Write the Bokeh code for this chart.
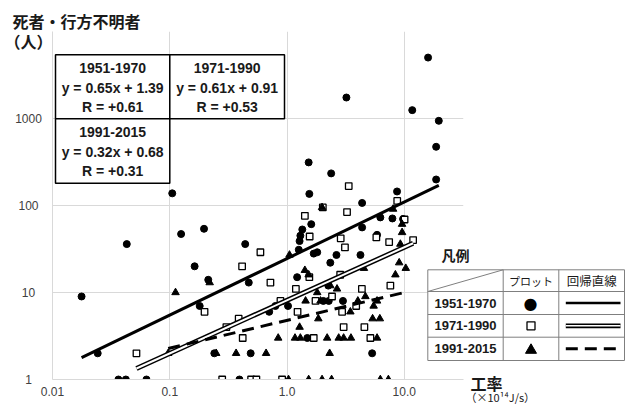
import numpy as np
from bokeh.plotting import figure
from bokeh.models import Range1d, FixedTicker, LinearScale
from bokeh.core.properties import value
from bokeh.embed import file_html
from bokeh.resources import INLINE

# ---------------- data ----------------
periods = ["1951-1970", "1971-1990", "1991-2015"]

x_1951 = [0.105, 0.125, 0.196, 0.043, 0.44, 0.163, 0.213, 0.472, 0.0177, 0.18,
          0.0243, 0.24, 0.49, 0.0365, 0.0422, 0.0633, 0.393, 0.796, 0.705, 1.02,
          1.53, 2.38, 1.55, 8.68, 4.37, 6.25, 7.92, 9.77, 4.37, 5.86,
          1.61, 1.35, 1.30, 1.28, 1.26, 1.69, 1.81, 2.64, 4.23, 2.34,
          1.22, 2.25, 3.0, 2.04, 2.27, 1.49, 5.32, 3.21, 15.96, 11.7,
          19.7, 18.7, 18.7]
y_1951 = [138, 47, 54, 36, 36, 20, 14, 13, 9, 7,
          2, 2, 2, 1, 1, 1, 1, 7, 6, 7,
          313, 234, 136, 145, 107, 73, 71, 70, 56, 46,
          61, 53, 45, 39, 31, 28, 29, 27, 27, 22,
          15, 12, 8, 8, 8, 3, 2, 1742, 5015, 1248,
          941, 473, 199]

x_1971 = [0.593, 0.414, 0.722, 0.198, 0.387, 0.304, 0.419, 0.052, 0.28, 0.494,
          0.548, 0.908, 3.36, 2.02, 3.25, 1.42, 1.56, 2.87, 3.12, 8.71,
          10.06, 11.9, 5.78, 7.43, 0.879, 1.55, 2.84, 1.19, 2.42, 4.35,
          7.61, 1.75, 1.23, 2.95, 3.89, 3.04, 4.57, 1.69, 5.14]
y_1971 = [29, 20, 13, 6, 5, 4, 3, 2, 1, 1,
          1, 1, 167, 95, 84, 76, 44, 42, 33, 113,
          69, 40, 43, 38, 8, 15, 16, 11, 9, 11,
          12, 8, 6, 6, 7, 4, 4, 3, 3]

x_1991 = [0.112, 0.219, 0.097, 0.249, 0.368, 0.663, 0.841, 1.99, 8.03, 1.05,
          9.58, 1.42, 1.53, 4.53, 9.05, 10.3, 8.40, 2.34, 2.67, 1.81,
          1.44, 1.93, 4.02, 4.66, 5.48, 5.86, 1.85, 3.47, 1.28, 5.37,
          6.19, 1.17, 1.30, 2.20, 2.76, 3.04, 3.51, 5.86, 2.31, 1.03,
          1.53, 1.99, 2.40, 6.25, 7.32, 9.26, 9.58]
y_1991 = [10, 13, 2, 2, 2, 2, 3, 95, 91, 27,
          49, 18, 16, 19, 22, 19, 16, 12, 11, 10,
          8, 8, 8, 9, 7, 8, 5, 6, 4, 5,
          5, 3, 3, 3, 3, 3, 3, 3, 2, 1,
          1, 1, 1, 1, 1, 36, 61]

# regression in log10 space: log y = slope * log x + intercept
slopes = [0.65, 0.61, 0.32]
intercepts = [1.39, 0.91, 0.68]
eq_texts = ["y = 0.65x + 1.39", "y = 0.61x + 0.91", "y = 0.32x + 0.68"]
r_texts = ["R = +0.61", "R = +0.53", "R = +0.31"]

x_ticks = [0.01, 0.1, 1, 10]
x_tick_labels = ["0.01", "0.1", "1.0", "10.0"]
y_ticks = [1, 10, 100, 1000, 10000]
y_tick_labels = ["1", "10", "100", "1000", ""]

y_title = "死者・行方不明者"
y_unit = "（人）"
x_title = "工率"
x_unit = "（×10¹⁴J/s）"
legend_title = "凡例"
legend_heads = ["プロット", "回帰直線"]

# ---------------- figure ----------------
W, H = 629, 405
FL, FR, FT, FB = 52, 463, 31, 379   # plot-area edges in page pixels
p = figure(width=W, height=H, x_axis_type="log", y_axis_type="log",
           x_range=Range1d(0.01, 32), y_range=Range1d(1, 10000),
           output_backend="svg", toolbar_location=None,
           min_border_left=FL, min_border_right=W - FR,
           min_border_top=FT, min_border_bottom=H - FB)
p.outline_line_color = None
p.background_fill_color = "white"

# pixel coordinate system for the decorations (page pixels, y downwards)
p.extra_x_ranges = {"px": Range1d(FL, FR)}
p.extra_y_ranges = {"py": Range1d(FB, FT)}
p.extra_x_scales = {"px": LinearScale()}
p.extra_y_scales = {"py": LinearScale()}
PX = dict(x_range_name="px", y_range_name="py", level="overlay")

GRID = "#d9d9d9"
TXT = "#404040"
INK = "#1a1a1a"
LAT = value("Liberation Sans")
CJK = value("Noto Sans CJK JP")

p.xaxis.ticker = FixedTicker(ticks=x_ticks)
p.xaxis.major_label_overrides = {t: l for t, l in zip(x_ticks, x_tick_labels)}
p.xaxis.major_tick_line_color = None
p.xaxis.minor_tick_line_color = None
p.xaxis.axis_line_color = GRID
p.xaxis.major_label_standoff = 1
p.xaxis.major_label_text_font = "Liberation Sans"
p.xaxis.major_label_text_font_size = "12px"
p.xaxis.major_label_text_color = TXT

p.yaxis.ticker = FixedTicker(ticks=y_ticks)
p.yaxis.major_label_overrides = {t: "" for t in y_ticks}
p.yaxis.major_tick_line_color = None
p.yaxis.minor_tick_line_color = None
p.yaxis.axis_line_color = GRID
p.yaxis.major_label_standoff = 0

p.grid.grid_line_color = GRID
p.grid.grid_line_width = 1

# ---------------- points ----------------
p.scatter(x_1951, y_1951, marker="circle", size=7, fill_color="black", line_color="black")
p.scatter(x_1971, y_1971, marker="square", size=6.5, fill_color="white",
          line_color="black", line_width=1.3)
p.scatter(x_1991, y_1991, marker="triangle", size=7.5, fill_color="black", line_color="black")

# ---------------- regression lines ----------------
def fit_line(xs, a, b):
    xr = np.array([min(xs), max(xs)])
    return xr, 10 ** (a * np.log10(xr) + b)

xr, yr = fit_line(x_1951, slopes[0], intercepts[0])
p.line(xr, yr, line_width=3, line_color="black")
xr, yr = fit_line(x_1971, slopes[1], intercepts[1])
p.line(xr, yr, line_width=5, line_color="black")
p.line(xr, yr, line_width=2, line_color="white")
xr, yr = fit_line(x_1991, slopes[2], intercepts[2])
p.line(xr, yr, line_width=3, line_color="black", line_dash="12 7")

# ---------------- y tick labels (centred in the left margin) ----------------
lab_ticks = [t for t, l in zip(y_ticks, y_tick_labels) if l]
lab_texts = [l for l in y_tick_labels if l]
p.text(x=[28] * len(lab_ticks), y=lab_ticks, text=lab_texts, x_range_name="px",
       level="overlay", text_align="center", text_baseline="middle",
       text_font=LAT, text_font_size="12px", text_color=TXT)

# ---------------- equation boxes ----------------
BX = [(55, 169.3, 54.3, 118.3), (169.3, 284, 54.3, 118.3), (55, 169.3, 118.3, 182.7)]
p.quad(left=[b[0] for b in BX], right=[b[1] for b in BX], top=[b[2] for b in BX],
       bottom=[b[3] for b in BX], fill_color="white", line_color="black",
       line_width=1.5, **PX)
tx, ty, tt = [], [], []
for i, (l, r, t, b) in enumerate(BX):
    for k, s in enumerate([periods[i], eq_texts[i], r_texts[i]]):
        tx.append((l + r) / 2)
        ty.append(t + 13.5 + k * 19.5)
        tt.append(s)
p.text(x=tx, y=ty, text=tt, text_align="center", text_baseline="middle",
       text_font=LAT, text_font_size="14px", text_font_style="bold",
       text_color=INK, **PX)

# ---------------- axis titles ----------------
p.text(x=[12], y=[20], text=[y_title], text_align="left", text_baseline="middle",
       text_font=CJK, text_font_size="16px", text_font_style="bold", text_color=INK, **PX)
p.text(x=[4], y=[40], text=[y_unit], text_align="left", text_baseline="middle",
       text_font=CJK, text_font_size="16px", text_font_style="bold", text_color=INK, **PX)
p.text(x=[470], y=[382], text=[x_title], text_align="left", text_baseline="middle",
       text_font=CJK, text_font_size="16px", text_font_style="bold", text_color=INK, **PX)
p.text(x=[465], y=[396.5], text=[x_unit], text_align="left", text_baseline="middle",
       text_font=CJK, text_font_size="11px", text_color=INK, **PX)

# ---------------- legend table ----------------
TL, TR, TT, TB = 427.3, 624, 269.3, 360
C1, C2 = 502.7, 558.3
R1, R2, R3 = 291, 314, 336.7
LC = "#7f7f7f"
p.quad(left=[TL], right=[TR], top=[TT], bottom=[TB], fill_color="white",
       line_color=LC, line_width=1, **PX)
p.segment(x0=[C1, C2, TL, TL, TL, TL], y0=[TT, TT, R1, R2, R3, R1],
          x1=[C1, C2, TR, TR, TR, C1], y1=[TB, TB, R1, R2, R3, TT],
          line_color=LC, line_width=1, **PX)

p.text(x=[441], y=[254], text=[legend_title], text_align="left", text_baseline="middle",
       text_font=CJK, text_font_size="14px", text_font_style="bold", text_color=INK, **PX)
p.text(x=[(C1 + C2) / 2, (C2 + TR) / 2], y=[280, 280], text=legend_heads,
       text_align="center", text_baseline="middle", text_font=CJK,
       text_font_size=["11px", "12.5px"], text_color=INK, **PX)

row_y = [302.5, 325.3, 348.3]
p.text(x=[(TL + C1) / 2] * 3, y=row_y, text=periods, text_align="center",
       text_baseline="middle", text_font=LAT, text_font_size="13px",
       text_font_style="bold", text_color=INK, **PX)

# legend markers (drawn as text / quad / patch so they are not culled outside the plot area)
mx = (C1 + C2) / 2
p.text(x=[mx - 0.5], y=[row_y[0]], text=["●"], text_align="center", text_baseline="middle",
       text_font=value("DejaVu Sans"), text_font_size="16px", text_color="black", **PX)
p.quad(left=[mx - 4], right=[mx + 4], top=[row_y[1] - 4], bottom=[row_y[1] + 4],
       fill_color="white", line_color="black", line_width=1.3, **PX)
p.patch(x=[mx - 5.5, mx + 5.5, mx], y=[row_y[2] + 4.5, row_y[2] + 4.5, row_y[2] - 5],
        fill_color="black", line_color="black", line_width=1, **PX)

lx0, lx1 = C2 + 7, TR - 4
p.segment(x0=[lx0], y0=[row_y[0]], x1=[lx1], y1=[row_y[0]], line_color="black",
          line_width=2.7, **PX)
p.segment(x0=[lx0], y0=[row_y[1]], x1=[lx1], y1=[row_y[1]], line_color="black",
          line_width=4.7, **PX)
p.segment(x0=[lx0], y0=[row_y[1]], x1=[lx1], y1=[row_y[1]], line_color="white",
          line_width=1.5, **PX)
p.segment(x0=[lx0], y0=[row_y[2]], x1=[lx1], y1=[row_y[2]], line_color="black",
          line_width=3, line_dash="12 7", **PX)

open("out.html", "w").write(file_html(p, INLINE))
